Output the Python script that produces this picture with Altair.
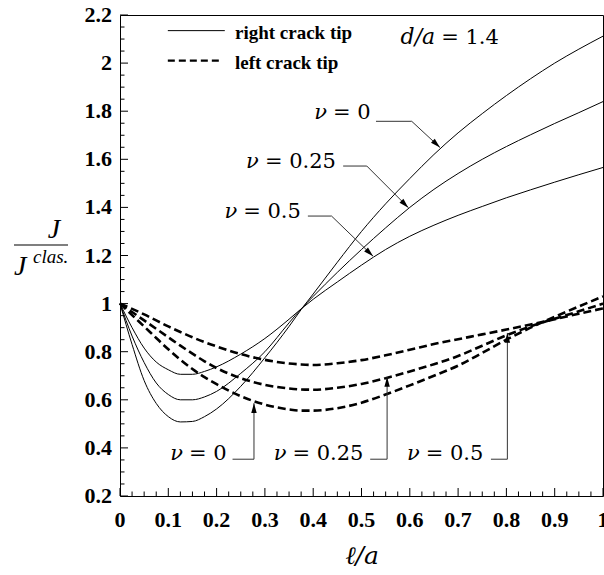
import altair as alt
import pandas as pd

# ---------------- data ----------------
xs = [0, 0.025, 0.05, 0.075, 0.1, 0.125, 0.15, 0.175, 0.2, 0.25, 0.3, 0.35, 0.375,
      0.4, 0.45, 0.5, 0.55, 0.6, 0.65, 0.7, 0.75, 0.8, 0.85, 0.9, 0.95, 1.0]

# right crack tip (solid)
right_nu0 = [1.0, 0.83, 0.68, 0.585, 0.53, 0.508, 0.51, 0.53, 0.562, 0.656, 0.775, 0.905, 0.975,
             1.04, 1.172, 1.30, 1.415, 1.52, 1.62, 1.71, 1.79, 1.865, 1.935, 2.0, 2.058, 2.112]
right_nu25 = [1.0, 0.865, 0.755, 0.67, 0.622, 0.6, 0.6, 0.612, 0.635, 0.71, 0.8, 0.92, 0.978,
              1.03, 1.13, 1.225, 1.315, 1.4, 1.475, 1.541, 1.6, 1.653, 1.702, 1.749, 1.794, 1.84]
right_nu5 = [1.0, 0.9, 0.815, 0.757, 0.725, 0.706, 0.706, 0.718, 0.737, 0.79, 0.855, 0.935, 0.978,
             1.018, 1.09, 1.16, 1.225, 1.28, 1.326, 1.367, 1.404, 1.44, 1.473, 1.505, 1.536, 1.566]

# left crack tip (dashed)
left_nu0 = [1.0, 0.952, 0.905, 0.857, 0.81, 0.767, 0.728, 0.694, 0.665, 0.615, 0.58, 0.56, 0.555,
            0.555, 0.565, 0.588, 0.622, 0.66, 0.7, 0.742, 0.795, 0.85, 0.9, 0.945, 0.988, 1.03]
left_nu25 = [1.0, 0.965, 0.93, 0.895, 0.86, 0.825, 0.792, 0.76, 0.732, 0.69, 0.662, 0.647, 0.643,
             0.642, 0.65, 0.666, 0.69, 0.718, 0.748, 0.782, 0.825, 0.868, 0.905, 0.937, 0.968, 1.0]
left_nu5 = [1.0, 0.978, 0.955, 0.93, 0.905, 0.882, 0.86, 0.84, 0.822, 0.79, 0.766, 0.751, 0.747,
            0.745, 0.752, 0.765, 0.785, 0.808, 0.832, 0.852, 0.872, 0.892, 0.913, 0.935, 0.958, 0.98]

nu_values = ["0", "0.25", "0.5"]

# tick values and labels
x_major = [0, 0.1, 0.2, 0.3, 0.4, 0.5, 0.6, 0.7, 0.8, 0.9, 1.0]
x_labels = ["0", "0.1", "0.2", "0.3", "0.4", "0.5", "0.6", "0.7", "0.8", "0.9", "1"]
y_major = [0.2, 0.4, 0.6, 0.8, 1.0, 1.2, 1.4, 1.6, 1.8, 2.0, 2.2]
y_labels = ["0.2", "0.4", "0.6", "0.8", "1", "1.2", "1.4", "1.6", "1.8", "2", "2.2"]
x_minor = [round(i * 0.025, 3) for i in range(41) if i % 4 != 0]
y_minor = [round(0.2 + i * 0.05, 3) for i in range(41) if i % 4 != 0]

# annotations (data coordinates): leader start, corner, arrow tip
upper_start_x = [0.530, 0.462, 0.389]
upper_y = [1.758, 1.572, 1.364]
upper_corner_x = [0.604, 0.511, 0.438]
upper_tip_x = [0.6625, 0.597, 0.524]
upper_tip_y = [1.649, 1.399, 1.197]
upper_text_x = [0.441, 0.300, 0.255]
upper_text_y = [1.767, 1.565, 1.357]

lower_start_x = [0.233, 0.518, 0.768]
lower_y = [0.353, 0.353, 0.353]
lower_corner_x = [0.2774, 0.553, 0.802]
lower_tip_y = [0.586, 0.695, 0.878]
lower_text_x = [0.143, 0.357, 0.633]
lower_text_y = [0.35, 0.35, 0.35]

# ---------------- tables ----------------
rows = []
for tip, series in [("right", [right_nu0, right_nu25, right_nu5]),
                    ("left", [left_nu0, left_nu25, left_nu5])]:
    for nu, vals in zip(nu_values, series):
        for x, v in zip(xs, vals):
            rows.append({"x": x, "J": v, "nu": nu, "tip": tip})
df = pd.DataFrame(rows)
df_right = df[df.tip == "right"]
df_left = df[df.tip == "left"]

lead_rows, tip_rows, text_rows = [], [], []
for i, nu in enumerate(nu_values):
    lid = "u" + nu
    lead_rows += [
        {"id": lid, "o": 0, "x": upper_start_x[i], "y": upper_y[i]},
        {"id": lid, "o": 1, "x": upper_corner_x[i], "y": upper_y[i]},
        {"id": lid, "o": 2, "x": upper_tip_x[i], "y": upper_tip_y[i]},
    ]
    tip_rows.append({"x": upper_tip_x[i], "y": upper_tip_y[i],
                     "ang": [133, 135, 134][i]})
    text_rows.append({"x": upper_text_x[i], "y": upper_text_y[i], "t": "= " + nu})
    lid = "l" + nu
    lead_rows += [
        {"id": lid, "o": 0, "x": lower_start_x[i], "y": lower_y[i]},
        {"id": lid, "o": 1, "x": lower_corner_x[i], "y": lower_y[i]},
        {"id": lid, "o": 2, "x": lower_corner_x[i], "y": lower_tip_y[i]},
    ]
    tip_rows.append({"x": lower_corner_x[i], "y": lower_tip_y[i], "ang": 0})
    text_rows.append({"x": lower_text_x[i], "y": lower_text_y[i], "t": "= " + nu})
df_lead = pd.DataFrame(lead_rows)
df_tips = pd.DataFrame(tip_rows)
df_text = pd.DataFrame(text_rows)

# ---------------- scales ----------------
xs_scale = alt.Scale(domain=[0, 1], nice=False, zero=False)
ys_scale = alt.Scale(domain=[0.2, 2.2], nice=False, zero=False)


def X(field):
    return alt.X(field, type="quantitative", scale=xs_scale, axis=None)


def Y(field):
    return alt.Y(field, type="quantitative", scale=ys_scale, axis=None)


solid = alt.Chart(df_right).mark_line(color="black", strokeWidth=1, interpolate="monotone").encode(
    x=X("x"), y=Y("J"), detail="nu:N")
dashed = alt.Chart(df_left).mark_line(color="black", strokeWidth=2.6, strokeDash=[8, 4],
                                      interpolate="monotone").encode(
    x=X("x"), y=Y("J"), detail="nu:N")

# inward ticks
ytM = alt.Chart(pd.DataFrame({"v": y_major})).mark_rule(color="black", strokeWidth=1).encode(
    y=Y("v"), x=alt.value(0), x2=alt.value(8))
ytm = alt.Chart(pd.DataFrame({"v": y_minor})).mark_rule(color="black", strokeWidth=1).encode(
    y=Y("v"), x=alt.value(0), x2=alt.value(4.5))
xtM = alt.Chart(pd.DataFrame({"v": x_major})).mark_rule(color="black", strokeWidth=1).encode(
    x=X("v"), y=alt.value(481), y2=alt.value(473))
xtm = alt.Chart(pd.DataFrame({"v": x_minor})).mark_rule(color="black", strokeWidth=1).encode(
    x=X("v"), y=alt.value(481), y2=alt.value(476.5))

# tick labels
ylab = alt.Chart(pd.DataFrame({"v": y_major, "t": y_labels})).mark_text(
    align="right", baseline="middle", dx=-8, font="Liberation Serif", fontWeight="bold",
    fontSize=22, color="black").encode(y=Y("v"), x=alt.value(0), text="t:N")
xlab = alt.Chart(pd.DataFrame({"v": x_major, "t": x_labels})).mark_text(
    align="center", baseline="alphabetic", font="Liberation Serif", fontWeight="bold",
    fontSize=22, color="black").encode(x=X("v"), y=alt.value(511.5), text="t:N")

leaders = alt.Chart(df_lead).mark_line(color="#333333", strokeWidth=1).encode(
    x=X("x"), y=Y("y"), detail="id:N", order="o:Q")
heads = alt.Chart(df_tips).mark_point(shape="M0,0L-0.28,1L0.28,1Z", filled=True, size=380,
                                      color="black", opacity=1, strokeWidth=0).encode(
    x=X("x"), y=Y("y"), angle=alt.Angle("ang:Q", scale=None))
vals_txt = alt.Chart(df_text).mark_text(align="left", baseline="alphabetic", font="DejaVu Serif",
                                        fontSize=21, color="black").encode(
    x=X("x"), y=Y("y"), text="t:N")
nu_txt = alt.Chart(df_text).mark_text(align="right", baseline="alphabetic", dx=-6,
                                      font="DejaVu Serif", fontStyle="italic",
                                      fontSize=21, color="black").encode(
    x=X("x"), y=Y("y"), text=alt.value("ν"))

# legend
leg_solid = alt.Chart(pd.DataFrame({"a": [0.099], "b": [0.217], "y": [2.135]})).mark_rule(
    color="black", strokeWidth=1).encode(x=X("a"), x2="b:Q", y=Y("y"))
leg_dash = alt.Chart(pd.DataFrame({"a": [0.099], "b": [0.205], "y": [2.01]})).mark_rule(
    color="black", strokeWidth=2.2, strokeDash=[7, 4]).encode(x=X("a"), x2="b:Q", y=Y("y"))
leg_text = alt.Chart(pd.DataFrame({"x": [0.238, 0.238], "y": [2.1, 1.975],
                                   "t": ["right crack tip", "left crack tip"]})).mark_text(
    align="left", baseline="alphabetic", font="Liberation Serif", fontWeight="bold",
    fontSize=19, color="black").encode(x=X("x"), y=Y("y"), text="t:N")

da_val = alt.Chart(pd.DataFrame({"x": [0.665], "y": [2.079], "t": ["= 1.4"]})).mark_text(
    align="left", baseline="alphabetic", font="DejaVu Serif", fontSize=21, color="black").encode(
    x=X("x"), y=Y("y"), text="t:N")
da_lab = alt.Chart(pd.DataFrame({"x": [0.665], "y": [2.079], "t": ["d/a"]})).mark_text(
    align="right", baseline="alphabetic", dx=-6, font="DejaVu Serif", fontStyle="italic",
    fontSize=22, color="black").encode(x=X("x"), y=Y("y"), text="t:N")

# axis titles
one = pd.DataFrame({"k": [0]})
xtitle = alt.Chart(one).mark_text(align="center", baseline="alphabetic", font="DejaVu Serif",
                                  fontStyle="italic", fontSize=25, color="black").encode(
    x=alt.value(242), y=alt.value(549), text=alt.value("ℓ/a"))
ynum = alt.Chart(one).mark_text(align="center", baseline="alphabetic", font="Liberation Serif",
                                fontStyle="italic", fontSize=28, color="black").encode(
    x=alt.value(-66), y=alt.value(223), text=alt.value("J"))
ybar = alt.Chart(one).mark_rule(color="black", strokeWidth=1.2).encode(
    x=alt.value(-106), x2=alt.value(-52), y=alt.value(230))
yden = alt.Chart(one).mark_text(align="left", baseline="alphabetic", font="Liberation Serif",
                                fontStyle="italic", fontSize=28, color="black").encode(
    x=alt.value(-106), y=alt.value(260), text=alt.value("J"))
ysup = alt.Chart(one).mark_text(align="left", baseline="alphabetic", font="Liberation Serif",
                                fontStyle="italic", fontSize=19, color="black").encode(
    x=alt.value(-87), y=alt.value(248), text=alt.value("clas."))

chart = alt.layer(
    solid, dashed, ytM, ytm, xtM, xtm, ylab, xlab, leaders, heads, vals_txt, nu_txt,
    leg_solid, leg_dash, leg_text, da_val, da_lab, xtitle, ynum, ybar, yden, ysup
).properties(
    width=483, height=481,
    autosize=alt.AutoSizeParams(type="none"),
    padding={"left": 120, "top": 15, "right": 1, "bottom": 79},
    background="white",
).configure_view(stroke="black", strokeWidth=1)

chart.save("out.html", embed_options={"renderer": "svg", "actions": False})
